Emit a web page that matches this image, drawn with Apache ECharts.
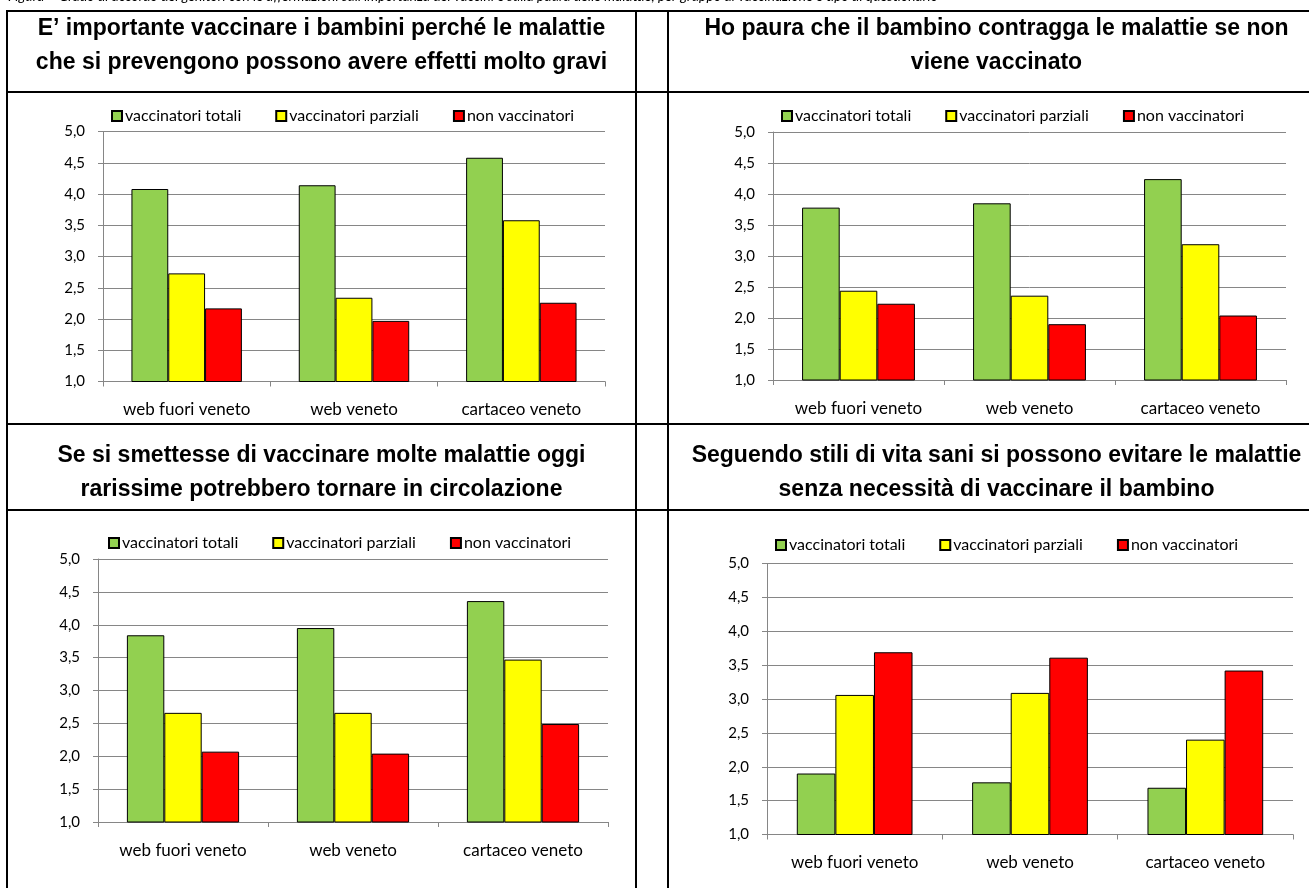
<!DOCTYPE html>
<html>
<head>
<meta charset="utf-8">
<script src="https://cdn.jsdelivr.net/npm/echarts@6/dist/echarts.min.js"></script>
<style>
  html, body { margin: 0; padding: 0; background: #fff; }
  #chart { width: 1309px; height: 888px; }
</style>
</head>
<body>
<div id="chart"></div>
<script>
const categories = ["web fuori veneto", "web veneto", "cartaceo veneto"];
const seriesNames = ["vaccinatori totali", "vaccinatori parziali", "non vaccinatori"];
const seriesColors = ["#92D050", "#FFFF00", "#FF0000"];

// panel 1: importanza dei vaccini
const p1Totali = [4.08, 4.14, 4.58];
const p1Parziali = [2.73, 2.34, 3.58];
const p1Non = [2.17, 1.97, 2.26];
// panel 2: paura che il bambino contragga le malattie
const p2Totali = [3.78, 3.85, 4.24];
const p2Parziali = [2.44, 2.36, 3.19];
const p2Non = [2.23, 1.90, 2.04];
// panel 3: malattie potrebbero tornare
const p3Totali = [3.84, 3.95, 4.36];
const p3Parziali = [2.66, 2.66, 3.47];
const p3Non = [2.07, 2.04, 2.49];
// panel 4: stili di vita sani
const p4Totali = [1.90, 1.77, 1.69];
const p4Parziali = [3.06, 3.09, 2.40];
const p4Non = [3.69, 3.61, 3.42];

const yMin = 1, yMax = 5, yStep = 0.5;

const panelTitles = [
  ["E’ importante vaccinare i bambini perché le malattie", "che si prevengono possono avere effetti molto gravi"],
  ["Ho paura che il bambino contragga le malattie se non", "viene vaccinato"],
  ["Se si smettesse di vaccinare molte malattie oggi", "rarissime potrebbero tornare in circolazione"],
  ["Seguendo stili di vita sani si possono evitare le malattie", "senza necessità di vaccinare il bambino"]
];
// only the bottom edge of this caption is visible in the picture
const caption = "Figura – Grado di accordo dei genitori con le affermazioni sull’importanza dei vaccini e sulla paura delle malattie, per gruppo di vaccinazione e tipo di questionario";

const panelData = [
  [p1Totali, p1Parziali, p1Non],
  [p2Totali, p2Parziali, p2Non],
  [p3Totali, p3Parziali, p3Non],
  [p4Totali, p4Parziali, p4Non]
];

// layout
const grids = [
  { left: 103, top: 131.5, width: 502, height: 250 },
  { left: 773, top: 132, width: 513, height: 248 },
  { left: 98, top: 559, width: 510, height: 263 },
  { left: 767, top: 563.5, width: 526, height: 271 }
];
const legendPos = [
  { left: 106, top: 103 },
  { left: 776, top: 103 },
  { left: 103, top: 530 },
  { left: 770, top: 532 }
];
const titleCenters = [
  { x: 321.5, y1: 29, y2: 63 },
  { x: 996.5, y1: 29, y2: 63 },
  { x: 321.5, y1: 456, y2: 490 },
  { x: 996.5, y1: 456, y2: 490 }
];

const FONT = "Lato";
const gridColor = "#868686";

const fmt = (v) => v.toFixed(1).replace(".", ",");

const series = [];
panelData.forEach((vals, p) => {
  vals.forEach((arr, k) => {
    series.push({
      name: seriesNames[k],
      type: "bar",
      xAxisIndex: p,
      yAxisIndex: p,
      data: arr,
      barGap: "0%",
      barCategoryGap: "34%",
      itemStyle: { color: seriesColors[k], borderColor: "#000", borderWidth: 1 },
      emphasis: { disabled: true }
    });
  });
});

// table borders
const graphics = [];
const hLine = (y) => ({ type: "line", shape: { x1: 6, y1: y, x2: 1309, y2: y }, style: { stroke: "#000", lineWidth: 2 } });
const vLine = (x) => ({ type: "line", shape: { x1: x, y1: 10, x2: x, y2: 888 }, style: { stroke: "#000", lineWidth: 2 } });
[11, 92, 424, 510].forEach((y) => graphics.push(hLine(y)));
[7, 636, 668].forEach((x) => graphics.push(vLine(x)));

titleCenters.forEach((c, i) => {
  [c.y1, c.y2].forEach((y, j) => {
    graphics.push({
      type: "text",
      x: c.x,
      y: y,
      style: {
        text: panelTitles[i][j],
        fontFamily: "Liberation Sans",
        fontWeight: "bold",
        fontSize: 23,
        fill: "#000",
        align: "center",
        verticalAlign: "middle"
      }
    });
  });
});

graphics.push({
  type: "text",
  x: 8,
  y: -11,
  style: { text: caption, fontFamily: FONT, fontStyle: "italic", fontSize: 14, fill: "#000" }
});

const option = {
  animation: false,
  backgroundColor: "#fff",
  textStyle: { fontFamily: FONT },
  grid: grids.map((g) => ({ ...g, containLabel: false })),
  legend: legendPos.map((l) => ({
    left: l.left,
    top: l.top,
    data: seriesNames,
    icon: "rect",
    itemWidth: 10,
    itemHeight: 10,
    itemGap: 34,
    selectedMode: false,
    textStyle: { fontFamily: FONT, fontSize: 16, color: "#000", padding: [0, 0, 0, -2] }
  })),
  xAxis: grids.map((g, i) => ({
    type: "category",
    gridIndex: i,
    data: categories,
    axisLine: { show: true, lineStyle: { color: gridColor, width: 1 } },
    axisTick: { show: true, length: 5, lineStyle: { color: gridColor } },
    axisLabel: { fontFamily: FONT, fontSize: 17, color: "#000", margin: 20 }
  })),
  yAxis: grids.map((g, i) => ({
    type: "value",
    gridIndex: i,
    min: yMin,
    max: yMax,
    interval: yStep,
    axisLine: { show: true, lineStyle: { color: gridColor, width: 1 } },
    axisTick: { show: true, length: 5, lineStyle: { color: gridColor } },
    splitLine: { show: true, lineStyle: { color: gridColor, width: 1 } },
    axisLabel: { fontFamily: FONT, fontSize: 15, color: "#000", margin: 18, formatter: fmt }
  })),
  graphic: graphics,
  series: series
};

const chart = echarts.init(document.getElementById("chart"));
chart.setOption(option);
</script>
</body>
</html>
